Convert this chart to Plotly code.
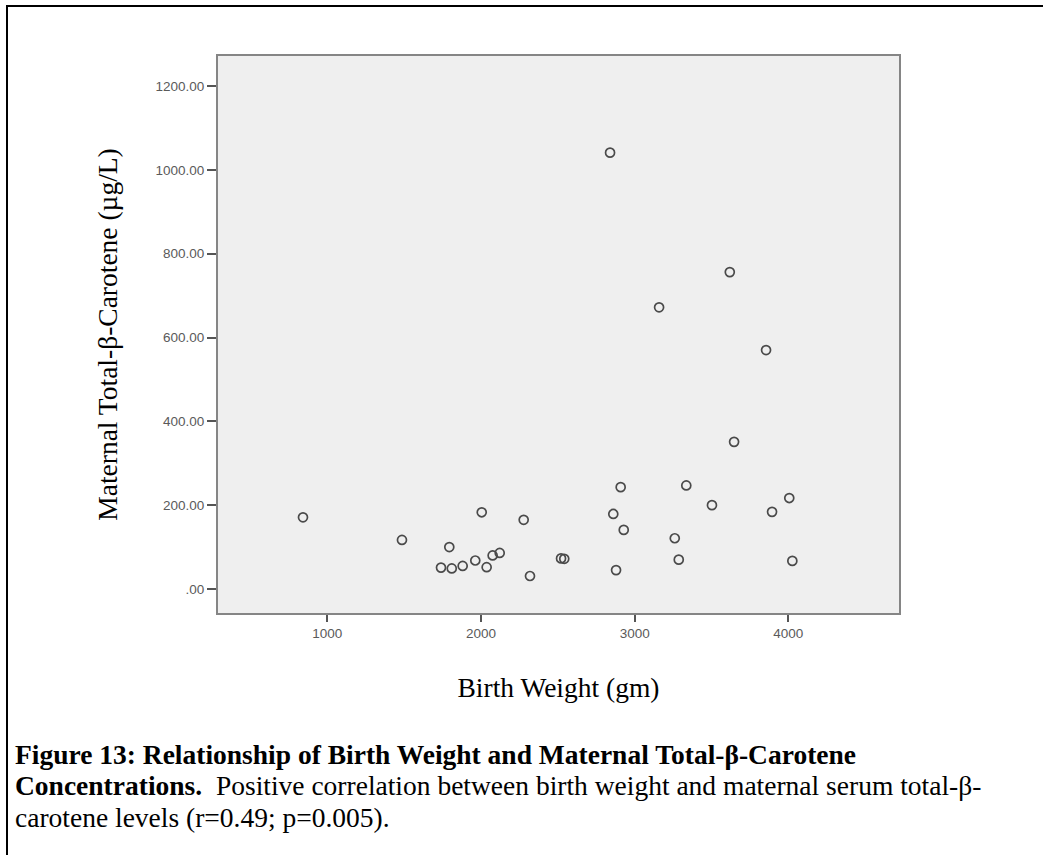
import plotly.graph_objects as go

# Data
birth_weight_gm = [842, 1486, 1794, 1740, 1810, 1881, 1963, 2037, 2005, 2076,
                   2122, 2278, 2319, 2521, 2542, 2909, 2861, 2929, 2879, 3159,
                   3855, 3647, 3336, 3503, 4006, 3894, 3261, 3287, 4026, 2840,
                   3619]
beta_carotene_ugL = [171, 117, 100, 51, 49, 55, 68, 52, 183, 80,
                     86, 165, 31, 73, 72, 243, 179, 141, 45, 672,
                     570, 351, 247, 200, 217, 184, 121, 70, 67, 1041,
                     756]

x_tick_vals = [1000, 2000, 3000, 4000]
x_tick_text = ["1000", "2000", "3000", "4000"]
y_tick_vals = [0, 200, 400, 600, 800, 1000, 1200]
y_tick_text = [".00", "200.00", "400.00", "600.00", "800.00", "1000.00", "1200.00"]

x_title = "Birth Weight (gm)"
y_title = "Maternal Total-\u03b2-Carotene (\u00b5g/L)"
caption_lines = [
    "<b>Figure 13: Relationship of Birth Weight and Maternal Total-\u03b2-Carotene</b>",
    "<b>Concentrations.</b>\u00a0 Positive correlation between birth weight and maternal serum total-\u03b2-",
    "carotene levels (r=0.49; p=0.005).",
]

W, H = 1043, 855
L, R, T, B = 218, 899, 56, 613  # plot area in pixels

serif = "Liberation Serif, Times New Roman, serif"
sans = "Liberation Sans, Arial, sans-serif"

fig = go.Figure()
fig.add_trace(go.Scatter(
    x=birth_weight_gm, y=beta_carotene_ugL, mode="markers",
    marker=dict(symbol="circle-open", size=9, color="#4a4a4a",
                line=dict(width=1.7, color="#4a4a4a")),
    showlegend=False, hoverinfo="x+y",
))

def px_x(px):
    return (px - L) / (R - L)

def px_y(py):
    return (B - py) / (B - T)

fig.update_layout(
    width=W, height=H,
    margin=dict(l=L, r=W - R, t=T, b=H - B, pad=0),
    paper_bgcolor="white",
    plot_bgcolor="#efefef",
    xaxis=dict(
        range=[289, 4720], tickvals=x_tick_vals, ticktext=x_tick_text,
        showgrid=False, zeroline=False, showline=True, mirror=True,
        linecolor="#858585", linewidth=2, ticks="outside", ticklen=7,
        tickwidth=1.5, tickcolor="#555555",
        tickfont=dict(family=sans, size=13.5, color="#5a5a5a"),
        title=dict(text=x_title, font=dict(family=serif, size=27.5, color="black"),
                   standoff=38),
    ),
    yaxis=dict(
        range=[-57.3, 1271.6], tickvals=y_tick_vals, ticktext=y_tick_text,
        showgrid=False, zeroline=False, showline=True, mirror=True,
        linecolor="#858585", linewidth=2, ticks="outside", ticklen=9,
        tickwidth=1.5, tickcolor="#555555",
        tickfont=dict(family=sans, size=13.5, color="#5a5a5a"),
        title=dict(text=y_title, font=dict(family=serif, size=27.5, color="black"),
                   standoff=30),
    ),
)

# Outer frame (left and top edges visible in the reference)
fig.add_shape(type="line", xref="paper", yref="paper",
              x0=px_x(7), x1=px_x(7), y0=px_y(6), y1=px_y(H + 5),
              line=dict(color="black", width=2))
fig.add_shape(type="line", xref="paper", yref="paper",
              x0=px_x(6), x1=px_x(W + 5), y0=px_y(6), y1=px_y(6),
              line=dict(color="black", width=2))

caption_mid_y = [754, 785, 817]
for text, ym in zip(caption_lines, caption_mid_y):
    fig.add_annotation(text=text, xref="paper", yref="paper",
                       x=px_x(13), y=px_y(ym), xanchor="left", yanchor="middle",
                       showarrow=False, align="left",
                       font=dict(family=serif, size=27.5, color="black"))

fig.write_html("out.html",
               config={"displayModeBar": False},
               post_script="document.body.style.margin='0';document.body.style.overflow='hidden';")
